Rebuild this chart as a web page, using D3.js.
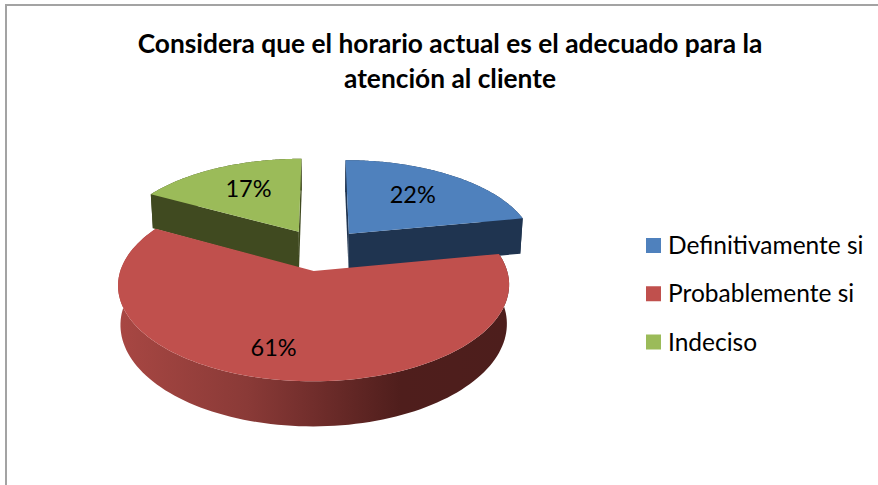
<!DOCTYPE html>
<html><head><meta charset="utf-8">
<script src="https://cdn.jsdelivr.net/npm/d3@7"></script>
<style>html,body{margin:0;padding:0;background:#fff}svg{display:block}text{font-family:Lato,"Open Sans",sans-serif;fill:#000}</style>
</head><body><svg id="c" width="878" height="485"></svg>
<script>
const titleLines = ["Considera que el horario actual es el adecuado para la", "atención al cliente"];
const categories = ["Definitivamente si", "Probablemente si", "Indeciso"];
const values = [22, 61, 17];
const labels = ["22%", "61%", "17%"];
const topColors = ["#4f81bd", "#c0504d", "#9bbb59"];
const sideColors = ["#1f3450", "#6e2c2a", "#404a20"];
const labelRadius = [0.6, 0.77, 0.6];
const labelTurn = [0, 0.08, 0];

const svg = d3.select("#c");
svg.append("path").attr("d", "M6,485V5H878").attr("fill", "none").attr("stroke", "#a3a3a3").attr("stroke-width", 2);

titleLines.forEach((t, i) => svg.append("text").attr("x", 450).attr("y", 53 + i * 35)
  .attr("text-anchor", "middle").attr("font-size", 26.3).attr("font-weight", 700).text(t));

// perspective projection of the tilted pie
const persp = 0.141, explode = 0.24, depth = 37.2, shrink = 0.012;
const sx = d3.scaleLinear().domain([0, 1]).range([321, 508]);
const sy = d3.scaleLinear().domain([0, 1]).range([249.5, 337.5]);
const project = (u, v, h) => {
  const k = 1 / (1 - persp * v);
  return [sx(u * k * (1 - shrink * h)), sy(v * k) + depth * h * k];
};
const slices = d3.pie().sort(null).value(d => d)(values);
const line = d3.line();
const offset = s => {
  const m = (s.startAngle + s.endAngle) / 2;
  return [explode * Math.sin(m), -explode * Math.cos(m)];
};
const onRim = (s, a, h, r = 1) => {
  const [ou, ov] = offset(s);
  return project(ou + r * Math.sin(a), ov - r * Math.cos(a), h);
};
const arcAngles = s => d3.range(0, 121).map(i => d3.interpolateNumber(s.startAngle, s.endAngle)(i / 120));

const defs = svg.append("defs");
const grad = defs.append("linearGradient").attr("id", "rim").attr("gradientUnits", "userSpaceOnUse")
  .attr("x1", 118).attr("x2", 510).attr("y1", 0).attr("y2", 0);
[[0, "#a84743"], [0.33, "#8a3a37"], [0.48, "#742f2d"], [0.72, "#4f1e1c"], [1, "#4d1e1c"]]
  .forEach(([o, c]) => grad.append("stop").attr("offset", o).attr("stop-color", c));

const order = [0, 2, 1];
order.forEach(i => {
  const s = slices[i];
  const as = arcAngles(s);
  const g = svg.append("g");
  const fillSide = i === 1 ? "url(#rim)" : sideColors[i];
  // outer wall
  g.append("path").attr("fill", fillSide)
    .attr("d", line(as.map(a => onRim(s, a, 0)).concat(as.slice().reverse().map(a => onRim(s, a, 1)))) + "Z");
  // cut faces
  if (i !== 1) {
    [s.startAngle, s.endAngle].forEach(a => {
      g.append("path").attr("fill", sideColors[i]).attr("d", line([
        onRim(s, a, 0, 0), onRim(s, a, 0), onRim(s, a, 1), onRim(s, a, 1, 0)]) + "Z");
    });
  }
  // top face
  g.append("path").attr("fill", topColors[i])
    .attr("d", line([onRim(s, 0, 0, 0)].concat(as.map(a => onRim(s, a, 0)))) + "Z");
});

slices.forEach((s, i) => {
  const m = (s.startAngle + s.endAngle) / 2 + labelTurn[i];
  const [x, y] = onRim(s, m, 0, labelRadius[i]);
  svg.append("text").attr("x", x).attr("y", y + 5.5).attr("text-anchor", "middle")
    .attr("font-size", 23.5).text(labels[i]);
});

const legendY = d3.scalePoint().domain(categories).range([246, 342.5]);
categories.forEach((c, i) => {
  svg.append("rect").attr("x", 646).attr("y", legendY(c) - 8).attr("width", 15).attr("height", 15).attr("fill", topColors[i]);
  svg.append("text").attr("x", 668).attr("y", legendY(c) + 8).attr("font-size", 24.5).text(c);
});
</script></body></html>
